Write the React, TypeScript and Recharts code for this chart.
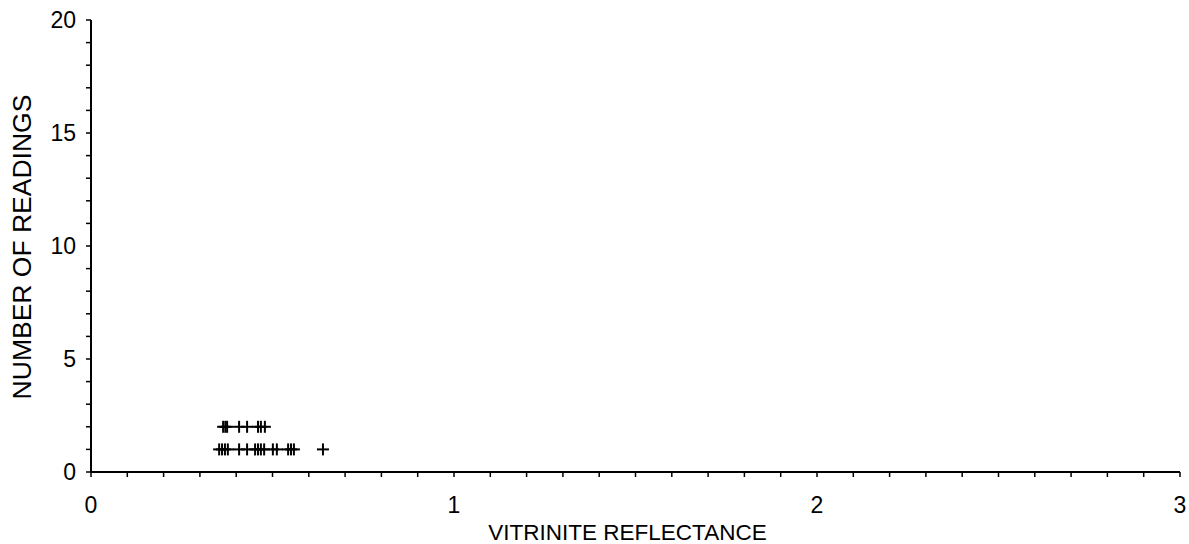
import React from 'react';
import { ScatterChart, Scatter, XAxis, YAxis } from 'recharts';

// readings counted once at each reflectance value
const singleReadings = [
  0.353, 0.361, 0.369, 0.377, 0.408, 0.43, 0.452, 0.46, 0.468, 0.477,
  0.501, 0.512, 0.543, 0.551, 0.559, 0.639,
];
// readings counted twice
const doubleReadings = [0.364, 0.37, 0.375, 0.408, 0.43, 0.46, 0.468, 0.479];

const xTicks = [
  0, 0.1, 0.2, 0.3, 0.4, 0.5, 0.6, 0.7, 0.8, 0.9,
  1, 1.1, 1.2, 1.3, 1.4, 1.5, 1.6, 1.7, 1.8, 1.9,
  2, 2.1, 2.2, 2.3, 2.4, 2.5, 2.6, 2.7, 2.8, 2.9, 3,
];
const xLabels = [0, 1, 2, 3];
const yTicks = [0, 1, 2, 3, 4, 5, 6, 7, 8, 9, 10, 11, 12, 13, 14, 15, 16, 17, 18, 19, 20];
const yLabels = [0, 5, 10, 15, 20];

const points = [
  ...singleReadings.map((x) => ({ x, y: 1 })),
  ...doubleReadings.map((x) => ({ x, y: 2 })),
];

const FONT = '"Liberation Sans", Arial, sans-serif';

function Cross({ cx, cy }: any) {
  return (
    <g stroke="#000" strokeWidth={2}>
      <line x1={cx - 6} y1={cy} x2={cx + 6} y2={cy} />
      <line x1={cx} y1={cy - 6} x2={cx} y2={cy + 6} />
    </g>
  );
}

function XTick({ x, y, payload }: any) {
  const v = Math.round(payload.value * 10) / 10;
  const show = xLabels.includes(v);
  return (
    <g>
      <line x1={x} y1={y - 8} x2={x} y2={y - 3} stroke="#000" strokeWidth={1.5} />
      {show && (
        <text x={x} y={y + 33} textAnchor="middle" fontSize={23} fontFamily={FONT} fill="#000">
          {v}
        </text>
      )}
    </g>
  );
}

function YTick({ x, y, payload }: any) {
  const show = yLabels.includes(payload.value);
  return (
    <g>
      <line x1={x + 3} y1={y} x2={x + 8} y2={y} stroke="#000" strokeWidth={1.5} />
      {show && (
        <text x={x - 7} y={y + 8} textAnchor="end" fontSize={23} fontFamily={FONT} fill="#000">
          {payload.value}
        </text>
      )}
    </g>
  );
}

function XTitle({ viewBox }: any) {
  const { x, width } = viewBox;
  return (
    <text x={x + width / 2 - 8} y={540} textAnchor="middle" fontSize={22.5} fontFamily={FONT} fill="#000">
      VITRINITE REFLECTANCE
    </text>
  );
}

function YTitle({ viewBox }: any) {
  const { y, height } = viewBox;
  const cy = y + height / 2 + 1;
  return (
    <text
      x={31}
      y={cy}
      transform={`rotate(-90, 31, ${cy})`}
      textAnchor="middle"
      fontSize={26.5}
      fontFamily={FONT}
      fill="#000"
    >
      NUMBER OF READINGS
    </text>
  );
}

export default function App() {
  return (
    <div style={{ position: 'absolute', left: 0, top: 0, background: '#fff' }}>
      <ScatterChart width={1189} height={544} margin={{ top: 20, right: 9, left: 0, bottom: 22 }}>
        <XAxis
          type="number"
          dataKey="x"
          domain={[0, 3]}
          ticks={xTicks}
          interval={0}
          tick={<XTick />}
          tickLine={false}
          axisLine={{ stroke: '#000', strokeWidth: 2 }}
          height={50}
          label={<XTitle />}
        />
        <YAxis
          type="number"
          dataKey="y"
          domain={[0, 20]}
          ticks={yTicks}
          interval={0}
          tick={<YTick />}
          tickLine={false}
          axisLine={{ stroke: '#000', strokeWidth: 2 }}
          width={91}
          label={<YTitle />}
        />
        <Scatter data={points} shape={<Cross />} isAnimationActive={false} />
      </ScatterChart>
    </div>
  );
}
